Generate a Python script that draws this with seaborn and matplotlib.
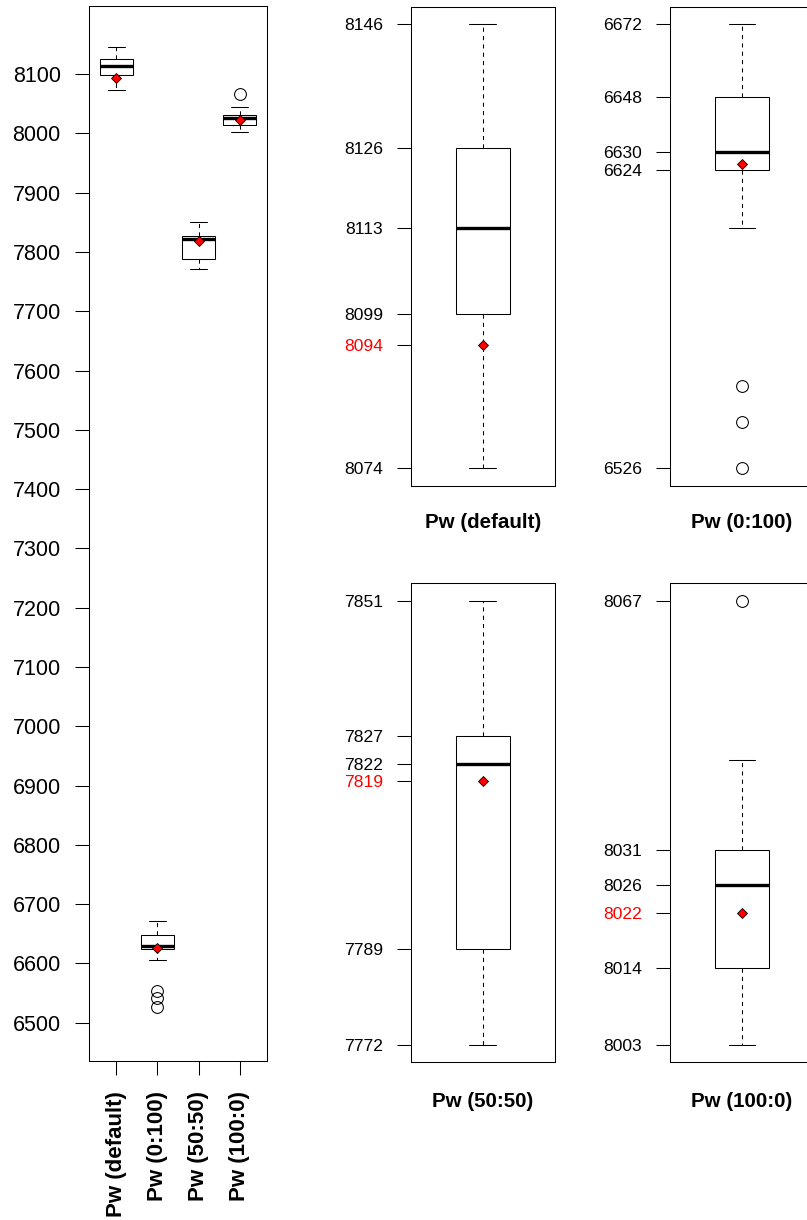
import numpy as np
import pandas as pd
import matplotlib
matplotlib.use("Agg")
import matplotlib.pyplot as plt
import seaborn as sns

groups = ["Pw (default)", "Pw (0:100)", "Pw (50:50)", "Pw (100:0)"]
pw_default = [8074, 8099, 8113, 8126, 8146]
pw_0_100 = [6526, 6541, 6553, 6605, 6624, 6624, 6630, 6630, 6630,
            6648, 6648, 6648, 6648, 6672, 6672, 6672, 6672]
pw_50_50 = [7772, 7789, 7822, 7827, 7851]
pw_100_0 = [8003, 8014, 8014, 8026, 8026, 8031, 8031, 8044, 8067]
means = [8094, 6626, 7819, 8022]
show_mean_label = [True, False, True, True]

left_ticks = list(range(6500, 8101, 100))

samples = [pw_default, pw_0_100, pw_50_50, pw_100_0]
df = pd.DataFrame({
    "group": np.repeat(groups, [len(s) for s in samples]),
    "value": np.concatenate(samples),
})

sns.set_style("white")
plt.rcParams["font.family"] = ["Liberation Sans", "DejaVu Sans"]
plt.rcParams.update({
    "text.color": "black", "axes.labelcolor": "black",
    "xtick.color": "black", "ytick.color": "black",
})

box_kws = dict(
    color="white", linecolor="black", linewidth=0.75, whis=1.5,
    medianprops=dict(linewidth=2.4, color="black"),
    whiskerprops=dict(linestyle=(0, (4, 4)), color="black"),
    flierprops=dict(marker="o", markerfacecolor="none", markeredgecolor="black",
                    markersize=8.5, markeredgewidth=0.75),
)
mean_kws = dict(marker="D", color="red", markeredgecolor="black",
                markersize=5, markeredgewidth=0.6, linestyle="none", zorder=5)


def frame(ax):
    for sp in ax.spines.values():
        sp.set_visible(True)
        sp.set_color("black")
        sp.set_linewidth(0.75)


fig = plt.figure(figsize=(8.07, 12.2), dpi=100)

# overview panel
ax0 = fig.add_axes([0.1107, 0.1306, 0.2198, 0.8645])
sns.boxplot(data=df, x="group", y="value", order=groups, width=0.8, ax=ax0, **box_kws)
ax0.plot(np.arange(len(groups)), means, **mean_kws)
ax0.set_xlim(-0.66, 3.66)
ax0.set_ylim(6436, 8215)
ax0.set_yticks(left_ticks)
ax0.set_xticks(np.arange(len(groups)))
ax0.set_xticklabels(groups, rotation=90, fontweight="bold", fontsize=16)
ax0.set_xlabel("")
ax0.set_ylabel("")
ax0.tick_params(axis="y", length=10, width=0.75, pad=10.5, labelsize=15.5,
                left=True, colors="black")
ax0.tick_params(axis="x", length=10, width=0.75, pad=12, bottom=True, colors="black")
frame(ax0)

# individual panels
positions = [
    [0.5089, 0.6019, 0.1788, 0.3926],
    [0.8302, 0.6019, 0.1788, 0.3926],
    [0.5089, 0.1293, 0.1788, 0.3926],
    [0.8302, 0.1293, 0.1788, 0.3926],
]
label_pads = [19.5, 19.5, 21.5, 21.5]

for i, (name, vals) in enumerate(zip(groups, samples)):
    ax = fig.add_axes(positions[i])
    sns.boxplot(y=vals, width=0.4, ax=ax, **box_kws)
    ax.plot([0], [means[i]], **mean_kws)
    lo, hi = min(vals), max(vals)
    pad = (hi - lo) * 0.04
    ax.set_ylim(lo - pad, hi + pad)
    ax.set_xlim(-0.54, 0.54)
    ticks = [float(v) for v in np.percentile(vals, [0, 25, 50, 75, 100])]
    labels = [f"{v:.0f}" for v in ticks]
    if show_mean_label[i]:
        ticks.append(means[i])
        labels.append(f"{means[i]}")
    ax.set_yticks(ticks)
    ax.set_yticklabels(labels)
    ax.tick_params(axis="y", length=10, width=0.75, pad=10, labelsize=12.6,
                   left=True, colors="black")
    ax.set_xticks([])
    ax.set_ylabel("")
    ax.set_xlabel(name, fontweight="bold", fontsize=14.8, labelpad=label_pads[i],
                  color="black")
    if show_mean_label[i]:
        t = ax.yaxis.get_major_ticks()[-1]
        t.tick1line.set_color("red")
        t.label1.set_color("red")
    frame(ax)

fig.savefig("out.png", dpi=100)
